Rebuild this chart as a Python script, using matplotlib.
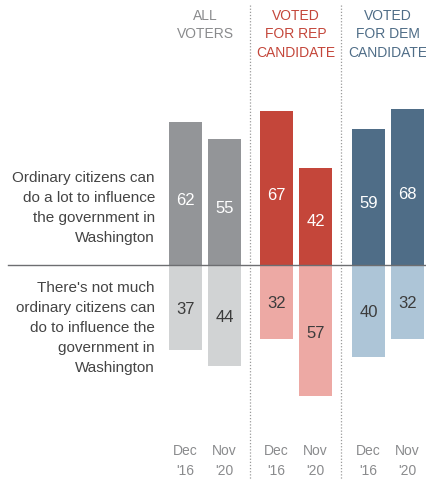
import matplotlib
matplotlib.use("Agg")
import matplotlib.pyplot as plt

plt.rcParams['font.family'] = ['Liberation Sans', 'DejaVu Sans']

groups = ["ALL\nVOTERS", "VOTED\nFOR REP\nCANDIDATE", "VOTED\nFOR DEM\nCANDIDATE"]
periods = [["Dec", "'16"], ["Nov", "'20"]]
can_do_lot = [[62, 55], [67, 42], [59, 68]]
not_much = [[37, 44], [32, 57], [40, 32]]
row_labels = [["Ordinary citizens can", "do a lot to influence", "the government in", "Washington"],
              ["There's not much", "ordinary citizens can", "do to influence the",
               "government in", "Washington"]]

dark_colors = ["#939598", "#c4463a", "#4f6d87"]
light_colors = ["#d1d3d4", "#eda9a4", "#adc5d7"]
head_colors = ["#8a8b8d", "#c4463a", "#4f6d87"]

W, H = 427, 479
fig = plt.figure(figsize=(W / 100, H / 100), dpi=100)
ax = fig.add_axes([0, 0, 1, 1])
ppu = 2.3  # pixels per percentage point
base_px = 265
ax.set_xlim(0, W)
ax.set_ylim(-(H - base_px) / ppu, base_px / ppu)
ax.axis("off")

def py(px):
    # convert pixel row from top to data y
    return (base_px - px) / ppu

group_starts = [169, 260, 352]
bw = 33
gap = 6
for g in range(3):
    for j in range(2):
        x = group_starts[g] + j * (bw + gap) + bw / 2
        v = can_do_lot[g][j]
        n = not_much[g][j]
        ax.bar(x, v, width=bw, color=dark_colors[g], bottom=0)
        ax.bar(x, -n, width=bw, color=light_colors[g], bottom=0)
        ax.text(x, v * 0.45, str(v), ha="center", va="center", color="white", fontsize=12)
        ax.text(x, -n * 0.52, str(n), ha="center", va="center", color="#3c3c3c", fontsize=12)
        for k, s in enumerate(periods[j]):
            ax.text(x, py(451 + 20 * k), s, ha="center", va="center", color="#8a8b8d",
                    fontsize=10)
    gc = group_starts[g] + bw + gap / 2
    for k, s in enumerate(groups[g].split("\n")):
        ax.text(gc, py(16 + 18.5 * k), s, ha="center", va="center", color=head_colors[g],
                fontsize=10)

# separators
for sx in [250, 341]:
    ax.plot([sx, sx], [py(5), py(479)], color="#9a9a9a", lw=0.9, ls=(0, (1, 1.5)))

# baseline
ax.plot([8, W], [0, 0], color="#6d6e71", lw=1)

for k, s in enumerate(row_labels[0]):
    ax.text(155, py(178 + 20 * k), s, ha="right", va="center", color="#444444", fontsize=11)
for k, s in enumerate(row_labels[1]):
    ax.text(155, py(288 + 20 * k), s, ha="right", va="center", color="#444444", fontsize=11)

fig.savefig("out.png", dpi=100)
